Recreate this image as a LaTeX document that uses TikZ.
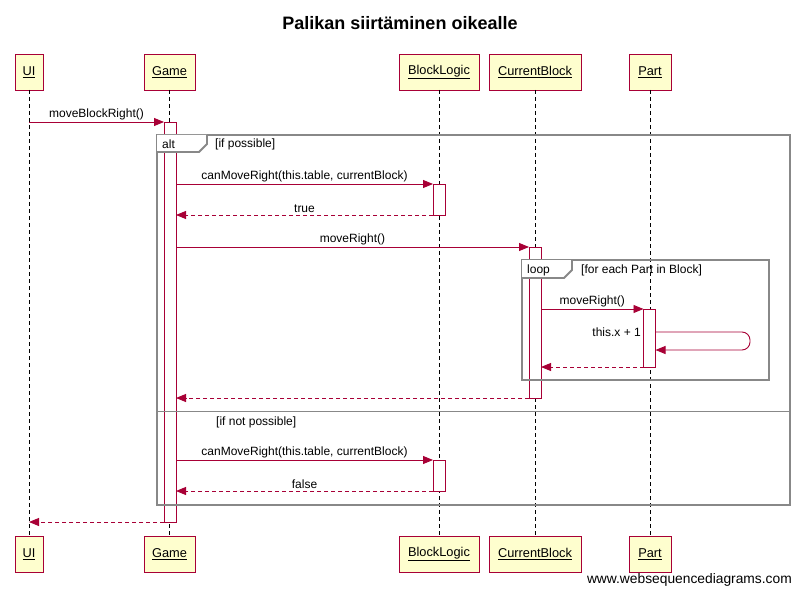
\documentclass[tikz,border=0pt]{standalone}
\usepackage{fontspec}
\setmainfont{Liberation Sans}
\usetikzlibrary{arrows.meta}
\definecolor{crim}{RGB}{168,0,54}
\definecolor{boxfill}{RGB}{254,254,206}
\definecolor{frm}{RGB}{136,136,136}
\begin{document}
\begin{tikzpicture}[x=1pt,y=-1pt,
  every node/.style={font=\fontsize{12}{14}\selectfont},
  partbox/.style={draw=crim, fill=boxfill, minimum height=36pt, inner sep=0pt, outer sep=0pt, line width=0.9pt, font=\fontsize{12.8}{14}\selectfont},
  life/.style={draw=black, dash pattern=on 4pt off 3pt, line width=0.8pt},
  act/.style={draw=crim, fill=white, minimum width=12pt, inner sep=0pt, outer sep=0pt, line width=0.9pt},
  msg/.style={draw=crim, line width=0.9pt, -{Triangle[length=10pt,width=8pt]}},
  ret/.style={msg, dash pattern=on 4pt off 3pt},
  frame/.style={draw=frm, line width=1.8pt},
  lbl/.style={above, inner sep=2pt}
]
\useasboundingbox (0,0) rectangle (800,596);
\fill[white] (0,0) rectangle (800,596);
% title
\node[font=\fontsize{18}{22}\selectfont\bfseries] (title) at (400,23) {Palikan siirtäminen oikealle};
% participants
\node[partbox, minimum width=28pt] (ui) at (29,72) {\underline{UI}};
\node[partbox, minimum width=51pt] (game) at (169.5,72) {\underline{Game}};
\node[partbox, minimum width=80pt] (bl) at (439,72) {\underline{BlockLogic}};
\node[partbox, minimum width=92pt] (cb) at (535,72) {\underline{CurrentBlock}};
\node[partbox, minimum width=42pt] (pt) at (650,72) {\underline{Part}};
\node[partbox, minimum width=28pt] (uib) at (29,554) {\underline{UI}};
\node[partbox, minimum width=51pt] (gameb) at (169.5,554) {\underline{Game}};
\node[partbox, minimum width=80pt] (blb) at (439,554) {\underline{BlockLogic}};
\node[partbox, minimum width=92pt] (cbb) at (535,554) {\underline{CurrentBlock}};
\node[partbox, minimum width=42pt] (ptb) at (650,554) {\underline{Part}};
% lifelines
\draw[life] (ui.south) -- (uib.north);
\draw[life] (game.south) -- (gameb.north);
\draw[life] (bl.south) -- (blb.north);
\draw[life] (cb.south) -- (cbb.north);
\draw[life] (pt.south) -- (ptb.north);
% activations
\node[act, minimum height=400pt, anchor=north] (ga) at (170,122) {};
\node[act, minimum height=31pt, anchor=north] (bl1) at (439,184) {};
\node[act, minimum height=151pt, anchor=north] (cba) at (535,247) {};
\node[act, minimum height=58pt, anchor=north] (pa) at (649.5,309) {};
\node[act, minimum height=31pt, anchor=north] (bl2) at (439,460) {};
% frames
\draw[frame] (157,135) rectangle (790,505);
\fill[white] (157,135) -- (207,135) -- (207,144) -- (199,152) -- (157,152) -- cycle;
\draw[frame] (157,152) -- (199,152) -- (207,144) -- (207,135);
\node[anchor=west, inner sep=0pt] (altl) at (162,144) {alt};
\node[anchor=west, inner sep=0pt] (g1) at (215,144) {[if possible]};
\draw[draw=frm, line width=1pt] (157,411) -- (790,411);
\node[anchor=west, inner sep=0pt] (g2) at (216,422) {[if not possible]};
\draw[frame] (522,260) rectangle (769,380);
\fill[white] (522,260) -- (572,260) -- (572,270) -- (564,278) -- (522,278) -- cycle;
\draw[frame] (522,278) -- (564,278) -- (572,270) -- (572,260);
\node[anchor=west, inner sep=0pt] (loopl) at (527,270) {loop};
\node[anchor=west, inner sep=0pt] (g3) at (581,270) {[for each Part in Block]};
% coordinates on the lifelines
\coordinate (u1) at (29,122);
\coordinate (u2) at (29,522);
\coordinate (g184) at (176,184);
\coordinate (g215) at (176,215);
\coordinate (g247) at (176,247);
\coordinate (g398) at (176,398);
\coordinate (g460) at (176,460);
\coordinate (g491) at (176,491);
\coordinate (c309) at (541,309);
\coordinate (c367) at (541,367);
% messages
\draw[msg] (u1) -- node[lbl] {moveBlockRight()} (ga.north west);
\draw[msg] (g184) -- node[lbl] {canMoveRight(this.table, currentBlock)} (bl1.north west);
\draw[ret] (bl1.south west) -- node[lbl] {true} (g215);
\draw[msg] (g247) -- node[lbl] {moveRight()} (cba.north west);
\draw[msg] (c309) -- node[lbl] {moveRight()} (pa.north west);
\coordinate (s1) at (pa.east |- 0,332);
\coordinate (s2) at (pa.east |- 0,350);
\draw[msg, rounded corners=8pt] (s1) -- (750,332) -- (750,350) -- (s2);
\node[anchor=east, inner sep=0pt] (selfl) at (641,332) {this.x + 1};
\draw[ret] (pa.south west) -- (c367);
\draw[ret] (cba.south west) -- (g398);
\draw[msg] (g460) -- node[lbl] {canMoveRight(this.table, currentBlock)} (bl2.north west);
\draw[ret] (bl2.south west) -- node[lbl] {false} (g491);
\draw[ret] (ga.south west) -- (u2);
% watermark
\node[anchor=east, inner sep=0pt, font=\fontsize{13.8}{15}\selectfont] (wm) at (792,580) {www.websequencediagrams.com};
\end{tikzpicture}
\end{document}
